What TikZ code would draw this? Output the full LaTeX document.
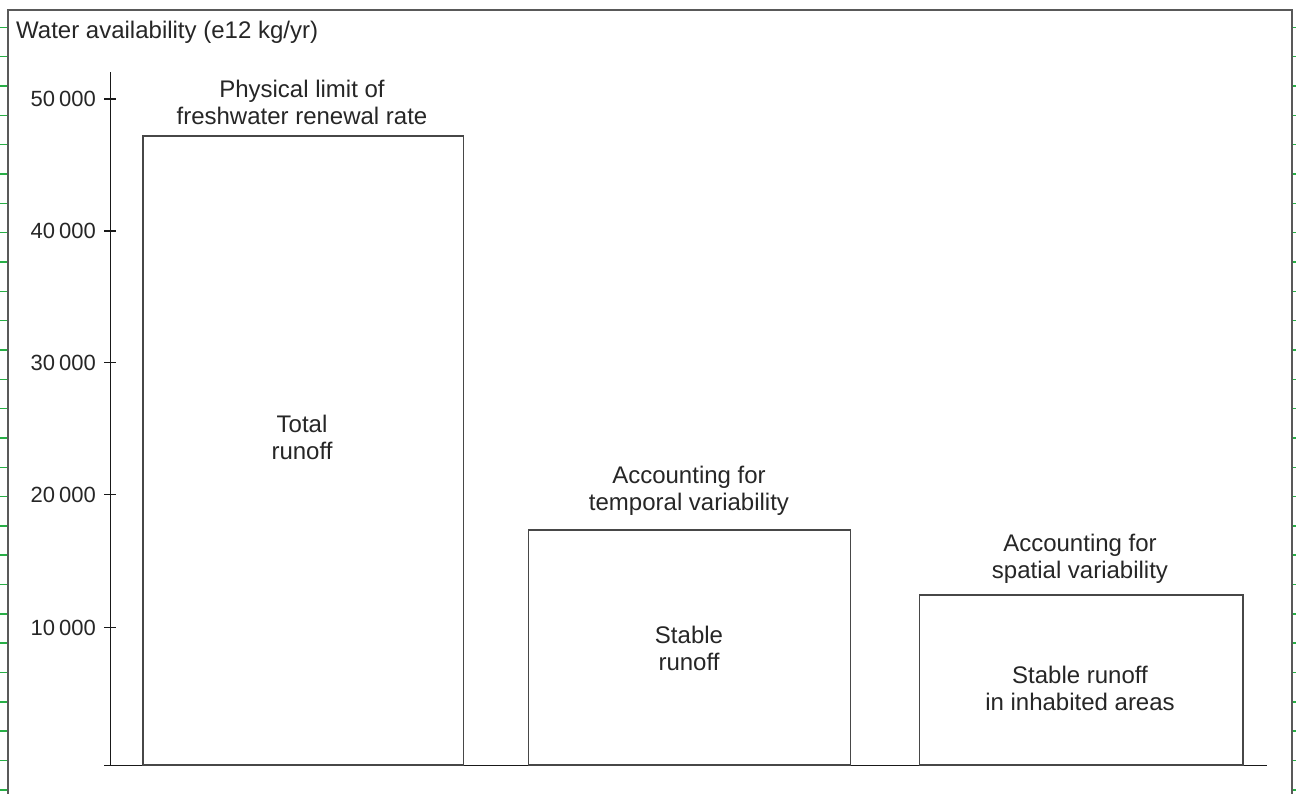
\documentclass[tikz,border=0pt]{standalone}
\usepackage{fontspec}
\setmainfont{Liberation Sans}
\definecolor{tickgreen}{RGB}{40,175,70}
\begin{document}
\begin{tikzpicture}[x=1pt,y=-1pt,
  txt/.style={font=\fontsize{24}{26.8}\selectfont, text=black!85, inner sep=0pt, align=center},
  ylab/.style={font=\fontsize{22}{26}\selectfont, text=black!85, inner sep=0pt, anchor=east},
  bar/.style={draw=black!72, line width=1.7pt, fill=white, inner sep=0pt, anchor=south west},
  frame/.style={draw=black!65, line width=2pt},
  gtick/.style={draw=tickgreen, line width=1.5pt},
  axis/.style={draw=black!90, line width=1.4pt}]
\useasboundingbox (0,0) rectangle (1296,793);
% frame
\draw[frame] (7.5,800) -- (7.5,10) -- (1291.5,10) -- (1291.5,800);
\foreach \k in {0,...,26} {
  \draw[gtick] (0,27.3+29.33*\k) -- (6.5,27.3+29.33*\k);
  \draw[gtick] (1292.5,27.3+29.33*\k) -- (1296,27.3+29.33*\k);
}
% axis
\coordinate (ytop) at (110.3,72);
\coordinate (ybot) at (110.3,765.5);
\coordinate (xl) at (104,765.5);
\coordinate (xr) at (1267,765.5);
\draw[axis] (ytop) -- (ybot);
\draw[axis] (xl) -- (xr);
\foreach \a/\b/\yy in {50/000/99,40/000/231,30/000/362.7,20/000/494.5,10/000/627.7} {
  \draw[axis] (104,\yy) -- (116,\yy);
  \node[ylab] at (96,\yy) {\a\kern4pt\b};
}
\node[txt, anchor=west] (title) at (16,32) {Water availability (e12 kg/yr)};
% bars
\node[bar, minimum width=320.5pt, minimum height=628.8pt] (b1) at (142,765.5) {};
\node[bar, minimum width=322pt, minimum height=234.8pt] (b2) at (527.7,765.5) {};
\node[bar, minimum width=323.3pt, minimum height=170pt] (b3) at (918.7,765.5) {};
% labels
\node[txt] (l1) at (302,102.5) {Physical limit of\\freshwater renewal rate};
\node[txt] (t1) at (302,437.5) {Total\\runoff};
\node[txt] (l2) at (689,490.5) {Accounting for\\temporal variability};
\node[txt] (t2) at (689,648.5) {Stable\\runoff};
\node[txt] (l3) at (1080,558.5) {Accounting for\\spatial variability};
\node[txt] (t3) at (1080,688.5) {Stable runoff\\in inhabited areas};
\end{tikzpicture}
\end{document}
